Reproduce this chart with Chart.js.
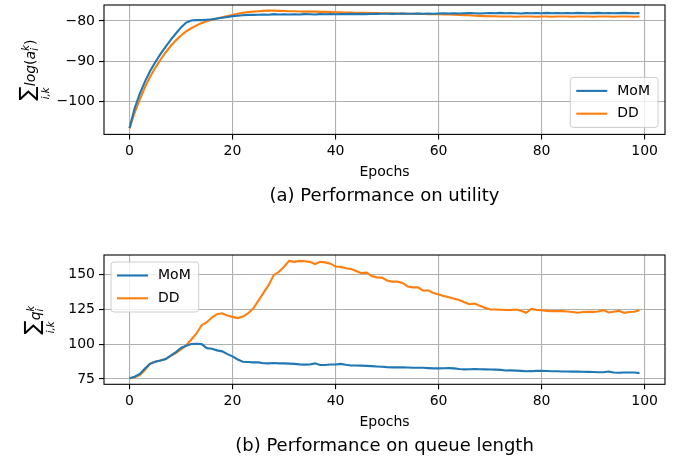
<!DOCTYPE html>
<html>
<head>
<meta charset="utf-8">
<script src="https://cdn.jsdelivr.net/npm/chart.js@4.4.1/dist/chart.umd.min.js"></script>
<style>
  body { margin: 0; background: #fff; }
  canvas { display: block; }
</style>
</head>
<body>
<canvas id="top" width="680" height="230"></canvas>
<canvas id="bottom" width="680" height="231"></canvas>
<script>
const epochs = Array.from({ length: 100 }, (_, i) => i);
const seriesNames = ['MoM', 'DD'];
const xTicks = [0, 20, 40, 60, 80, 100];
const utilTicks = [-100, -90, -80];
const queueTicks = [75, 100, 125, 150];

const utilMoM = [
  -106.5, -101.6, -98.0, -95.0, -92.4, -90.2, -88.2, -86.4, -84.7, -83.1,
  -81.6, -80.4, -79.9, -79.8, -79.8, -79.7, -79.6, -79.4, -79.2, -79.0,
  -78.8, -78.7, -78.6, -78.5, -78.5, -78.45, -78.4, -78.45, -78.3, -78.4,
  -78.35, -78.4, -78.35, -78.4, -78.3, -78.35, -78.4, -78.3, -78.35, -78.3,
  -78.35, -78.3, -78.3, -78.25, -78.3, -78.25, -78.3, -78.2, -78.25, -78.2,
  -78.2, -78.25, -78.2, -78.15, -78.2, -78.2, -78.15, -78.2, -78.15, -78.2,
  -78.15, -78.1, -78.15, -78.1, -78.15, -78.1, -78.05, -78.1, -78.15, -78.1,
  -78.05, -78.1, -78.0, -78.1, -78.05, -78.1, -78.15, -78.05, -78.1, -78.05,
  -78.1, -78.0, -78.1, -78.05, -78.1, -78.05, -78.1, -78.0, -78.05, -78.1,
  -78.05, -78.0, -78.1, -78.05, -78.1, -78.05, -78.0, -78.05, -78.1, -78.05
];
const utilDD = [
  -106.6, -102.7, -99.4, -96.4, -93.8, -91.6, -89.6, -87.8, -86.2, -84.8,
  -83.6, -82.6, -81.8, -81.1, -80.5, -80.1, -79.7, -79.4, -79.1, -78.8,
  -78.5, -78.2, -78.0, -77.8, -77.7, -77.6, -77.5, -77.45, -77.45, -77.5,
  -77.55, -77.6, -77.6, -77.65, -77.7, -77.7, -77.7, -77.75, -77.75, -77.8,
  -77.85, -77.87, -77.9, -77.92, -77.95, -77.97, -78.0, -78.03, -78.05, -78.08,
  -78.1, -78.12, -78.15, -78.18, -78.2, -78.22, -78.25, -78.27, -78.3, -78.32,
  -78.35, -78.37, -78.4, -78.45, -78.5, -78.55, -78.6, -78.7, -78.75, -78.8,
  -78.85, -78.85, -78.9, -78.9, -78.9, -78.95, -78.9, -78.9, -78.9, -78.95,
  -78.9, -78.9, -78.95, -78.9, -78.9, -78.9, -78.95, -78.9, -78.9, -78.9,
  -78.95, -78.9, -78.9, -78.9, -78.95, -78.9, -78.9, -78.9, -78.95, -78.9
];
const queueMoM = [
  75.5, 76.6, 78.6, 82.5, 86.0, 87.4, 88.3, 89.3, 91.8, 94.3,
  97.2, 98.8, 100.1, 100.2, 100.0, 97.1, 96.7, 95.5, 94.8, 92.8,
  91.2, 89.0, 87.4, 87.2, 86.9, 86.9, 86.3, 86.2, 86.4, 86.2,
  86.2, 86.0, 85.8, 85.5, 85.3, 85.4, 86.2, 85.0, 85.0, 85.4,
  85.4, 85.8, 85.2, 84.7, 84.7, 84.6, 84.4, 84.2, 84.0, 83.8,
  83.5, 83.3, 83.4, 83.3, 83.2, 83.1, 83.0, 83.0, 82.8, 82.6,
  82.6, 82.7, 82.8, 82.6, 82.2, 81.9, 82.0, 82.1, 82.0, 81.9,
  81.8, 81.7, 81.5, 81.1, 81.2, 81.0, 80.8, 80.5, 80.6, 80.8,
  80.9, 80.7, 80.5, 80.5, 80.4, 80.4, 80.3, 80.3, 80.2, 80.1,
  80.0, 79.8, 79.8, 80.4, 79.6, 79.5, 79.6, 79.7, 79.6, 79.2
];
const queueDD = [
  75.3, 76.2, 77.8, 81.5, 85.8, 87.3, 88.3, 89.1, 91.5, 93.6,
  96.2, 99.0, 103.3, 107.6, 113.5, 115.7, 119.0, 121.4, 122.1, 120.4,
  119.5, 118.6, 119.7, 121.9, 125.5, 131.0, 136.7, 142.2, 149.4, 151.8,
  155.4, 159.6, 158.9, 159.6, 159.3, 158.9, 157.3, 158.9, 158.5, 157.6,
  155.5, 155.3, 154.3, 153.8, 152.4, 150.8, 151.2, 148.8, 147.8, 147.6,
  145.6, 144.7, 144.7, 143.8, 141.3, 140.6, 140.6, 138.2, 138.5, 136.5,
  135.5, 134.5, 133.5, 132.5, 131.5, 130.0, 128.5, 129.0, 127.5, 126.0,
  124.8, 124.8, 124.6, 124.4, 124.4, 124.8, 123.8, 122.4, 125.2, 124.5,
  124.2, 123.8, 123.6, 123.6, 123.6, 123.3, 123.0, 122.4, 123.0, 123.1,
  123.1, 123.3, 124.3, 122.6, 123.2, 123.8, 122.4, 123.0, 123.2, 124.3
];

const FONT = '"DejaVu Sans", sans-serif';
const colors = ['#1f77b4', '#ff7f0e'];

// frame around the axes + legend box in the matplotlib style
const framePlugin = {
  id: 'frame',
  afterDatasetsDraw(chart, args, opts) {
    const { ctx, chartArea: a } = chart;
    ctx.save();
    ctx.strokeStyle = '#000';
    ctx.lineWidth = 1.1;
    ctx.strokeRect(a.left, a.top, a.right - a.left, a.bottom - a.top);

    ctx.font = '14px ' + FONT;
    const sets = chart.data.datasets;
    const textW = Math.max(...sets.map(d => ctx.measureText(d.label).width));
    const w = 48 + textW + 7, h = 50;
    const x = opts.loc === 'lower right' ? a.right - 7 - w : a.left + 7;
    const y = opts.loc === 'lower right' ? a.bottom - 7 - h : a.top + 7;
    ctx.beginPath();
    if (ctx.roundRect) ctx.roundRect(x, y, w, h, 3); else ctx.rect(x, y, w, h);
    ctx.fillStyle = 'rgba(255,255,255,0.8)';
    ctx.fill();
    ctx.strokeStyle = '#cccccc';
    ctx.lineWidth = 1;
    ctx.stroke();
    sets.forEach((d, i) => {
      const cy = y + 13.5 + i * 22.8;
      ctx.strokeStyle = d.borderColor;
      ctx.lineWidth = 2.1;
      ctx.beginPath();
      ctx.moveTo(x + 6, cy);
      ctx.lineTo(x + 37, cy);
      ctx.stroke();
      ctx.fillStyle = '#000';
      ctx.textBaseline = 'middle';
      ctx.textAlign = 'left';
      ctx.fillText(d.label, x + 47, cy);
    });
    ctx.restore();
  }
};

// rotated y label with a sum sign and sub/superscripts
const mathLabelPlugin = {
  id: 'mathLabel',
  afterDraw(chart, args, opts) {
    const ctx = chart.ctx;
    const partWidth = p => {
      if (p.stack) return Math.max(...p.stack.map(partWidth));
      ctx.font = p.font;
      return ctx.measureText(p.t).width + (p.gap || 0);
    };
    const total = opts.parts.reduce((s, p) => s + partWidth(p), 0);
    ctx.save();
    ctx.translate(opts.x, opts.y);
    ctx.rotate(-Math.PI / 2);
    ctx.fillStyle = '#000';
    ctx.textBaseline = 'alphabetic';
    let cx = -total / 2;
    opts.parts.forEach(p => {
      const pw = partWidth(p);
      const items = p.stack || [p];
      items.forEach(it => {
        ctx.font = it.font;
        const iw = ctx.measureText(it.t).width;
        const off = p.center ? (pw - iw) / 2 : 0;
        ctx.fillText(it.t, cx + off, it.dy || 0);
      });
      cx += pw;
    });
    ctx.restore();
  }
};

const italic = s => 'italic ' + s + 'px ' + FONT;
const upright = s => s + 'px ' + FONT;
const sumPart = { center: true, stack: [
  { t: '\u2211', font: upright(21), dy: -0.5, gap: 0 },
  { t: 'i,k', font: italic(10), dy: 14 }
] };

const fmt = v => (v < 0 ? '\u2212' + Math.abs(v) : String(v));

function makeChart(id, opt) {
  return new Chart(document.getElementById(id), {
    type: 'line',
    data: {
      datasets: seriesNames.map((name, i) => ({
        label: name,
        data: epochs.map((e, j) => ({ x: e, y: opt.series[i][j] })),
        borderColor: colors[i],
        backgroundColor: colors[i],
        borderWidth: 2.1,
        pointRadius: 0,
        tension: 0,
        fill: false
      }))
    },
    options: {
      responsive: false,
      animation: false,
      devicePixelRatio: 1,
      layout: { padding: { left: 0, right: 15, top: opt.padTop, bottom: opt.padBottom } },
      plugins: {
        legend: { display: false },
        tooltip: { enabled: false },
        title: {
          display: true,
          position: 'bottom',
          fullSize: false,
          text: opt.caption,
          color: '#000',
          font: { family: FONT, size: 18, weight: 'normal' },
          padding: { top: 0, bottom: 0 }
        },
        frame: { loc: opt.legendLoc },
        mathLabel: opt.label
      },
      scales: {
        x: {
          type: 'linear',
          min: -4.95,
          max: 103.95,
          afterBuildTicks: s => { s.ticks = xTicks.map(v => ({ value: v })); },
          afterFit: s => {
            s.height = 51.4;
            s.paddingLeft = s.paddingRight = s.paddingTop = s.paddingBottom = 0;
          },
          ticks: { color: '#000', font: { family: FONT, size: 14 }, padding: 4, maxRotation: 0, autoSkip: false },
          grid: { color: '#b0b0b0', lineWidth: 1.1, tickColor: '#000', tickLength: 5, tickWidth: 1.1 },
          border: { display: false },
          title: {
            display: true,
            text: 'Epochs',
            color: '#000',
            font: { family: FONT, size: 14 },
            padding: { top: 0, bottom: 5 }
          }
        },
        y: {
          type: 'linear',
          min: opt.yMin,
          max: opt.yMax,
          afterBuildTicks: s => { s.ticks = opt.yTicks.map(v => ({ value: v })); },
          afterFit: s => {
            s.width = 104;
            s.paddingLeft = s.paddingRight = s.paddingTop = s.paddingBottom = 0;
          },
          ticks: { color: '#000', font: { family: FONT, size: 14 }, padding: 4, callback: fmt, autoSkip: false },
          grid: { color: '#b0b0b0', lineWidth: 1.1, tickColor: '#000', tickLength: 5, tickWidth: 1.1 },
          border: { display: false }
        }
      }
    },
    plugins: [framePlugin, mathLabelPlugin]
  });
}

makeChart('top', {
  series: [utilMoM, utilDD],
  yMin: -108.07,
  yMax: -76.05,
  yTicks: utilTicks,
  padTop: 5,
  padBottom: 22.6,
  caption: '(a) Performance on utility',
  legendLoc: 'lower right',
  label: {
    x: 34.5, y: 70,
    parts: [
      sumPart,
      { t: 'log', font: italic(14) },
      { t: '(', font: upright(14) },
      { t: 'a', font: italic(14) },
      { stack: [
        { t: 'k', font: italic(10), dy: -5.5 },
        { t: 'i', font: italic(10), dy: 3.5 }
      ] },
      { t: ')', font: upright(14) }
    ]
  }
});

makeChart('bottom', {
  series: [queueMoM, queueDD],
  yMin: 71.2,
  yMax: 163.8,
  yTicks: queueTicks,
  padTop: 25,
  padBottom: 3.7,
  caption: '(b) Performance on queue length',
  legendLoc: 'upper left',
  label: {
    x: 39.5, y: 90,
    parts: [
      sumPart,
      { t: 'q', font: italic(14) },
      { stack: [
        { t: 'k', font: italic(10), dy: -5.5 },
        { t: 'i', font: italic(10), dy: 3.5 }
      ] }
    ]
  }
});
</script>
</body>
</html>
